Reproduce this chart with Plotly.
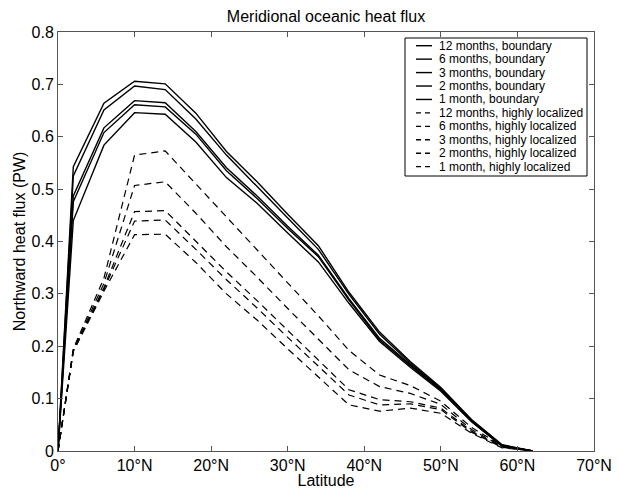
import plotly.graph_objects as go

lat = [0, 2, 6, 10, 14, 18, 22, 26, 30, 34, 38, 42, 46, 50, 54, 58, 62]

boundary_12 = [0, 0.543, 0.664, 0.706, 0.701, 0.645, 0.572, 0.514, 0.452, 0.392, 0.303, 0.227, 0.171, 0.121, 0.060, 0.012, 0]
boundary_6 = [0, 0.525, 0.651, 0.697, 0.690, 0.634, 0.565, 0.506, 0.445, 0.385, 0.299, 0.223, 0.168, 0.119, 0.059, 0.011, 0]
boundary_3 = [0, 0.487, 0.617, 0.669, 0.665, 0.610, 0.541, 0.487, 0.429, 0.374, 0.291, 0.215, 0.165, 0.117, 0.058, 0.010, 0]
boundary_2 = [0, 0.476, 0.608, 0.661, 0.657, 0.605, 0.535, 0.482, 0.425, 0.371, 0.288, 0.212, 0.163, 0.116, 0.057, 0.010, 0]
boundary_1 = [0, 0.440, 0.584, 0.646, 0.643, 0.590, 0.522, 0.473, 0.416, 0.361, 0.282, 0.209, 0.160, 0.114, 0.056, 0.009, 0]

local_12 = [0, 0.195, 0.330, 0.565, 0.573, 0.510, 0.447, 0.385, 0.323, 0.258, 0.192, 0.145, 0.125, 0.095, 0.045, 0.010, 0]
local_6 = [0, 0.193, 0.320, 0.507, 0.514, 0.454, 0.390, 0.332, 0.272, 0.213, 0.155, 0.123, 0.110, 0.089, 0.041, 0.009, 0]
local_3 = [0, 0.192, 0.312, 0.457, 0.459, 0.401, 0.342, 0.287, 0.230, 0.173, 0.117, 0.098, 0.094, 0.082, 0.038, 0.008, 0]
local_2 = [0, 0.191, 0.309, 0.439, 0.441, 0.385, 0.327, 0.273, 0.217, 0.162, 0.107, 0.088, 0.090, 0.079, 0.036, 0.007, 0]
local_1 = [0, 0.190, 0.305, 0.413, 0.414, 0.360, 0.300, 0.250, 0.195, 0.141, 0.088, 0.076, 0.082, 0.072, 0.034, 0.006, 0]

boundary_names = ["12 months, boundary", "6 months, boundary", "3 months, boundary",
                  "2 months, boundary", "1 month, boundary"]
local_names = ["12 months, highly localized", "6 months, highly localized",
               "3 months, highly localized", "2 months, highly localized",
               "1 month, highly localized"]

x_ticks = [0, 10, 20, 30, 40, 50, 60, 70]
x_ticklabels = ["0°", "10°N", "20°N", "30°N", "40°N", "50°N", "60°N", "70°N"]
y_ticks = [0, 0.1, 0.2, 0.3, 0.4, 0.5, 0.6, 0.7, 0.8]
y_ticklabels = ["0", "0.1", "0.2", "0.3", "0.4", "0.5", "0.6", "0.7", "0.8"]

W, H = 618, 489
L, R, T, B = 58, 594, 32, 451  # plot area in pixels

SOLID = "solid"
DASH_PLOT = "7px,5px"
DASH_LEG = "5px,4px"

fig = go.Figure()
entries = []
for name, vals in zip(boundary_names, [boundary_12, boundary_6, boundary_3, boundary_2, boundary_1]):
    fig.add_trace(go.Scatter(x=lat, y=vals, mode="lines", name=name, showlegend=False,
                             line=dict(color="black", width=1.4)))
    entries.append((name, SOLID))
for name, vals in zip(local_names, [local_12, local_6, local_3, local_2, local_1]):
    fig.add_trace(go.Scatter(x=lat, y=vals, mode="lines", name=name, showlegend=False,
                             line=dict(color="black", width=1.2, dash=DASH_PLOT)))
    entries.append((name, DASH_LEG))

font = "Liberation Sans, Arial, Helvetica, sans-serif"
axis_common = dict(showgrid=False, zeroline=False, showline=True, linecolor="#555",
                   linewidth=1, mirror="ticks", ticks="inside", ticklen=5,
                   tickcolor="#555", automargin=False,
                   tickfont=dict(family=font, size=16, color="black"))


def px_x(p):
    return (p - L) / (R - L)


def px_y(p):
    return (B - p) / (B - T)


# legend drawn as box + samples + labels (paper coordinates)
shapes = [dict(type="rect", xref="paper", yref="paper",
               x0=px_x(405), x1=px_x(587), y0=px_y(176), y1=px_y(38),
               line=dict(color="black", width=1), fillcolor="white", layer="above")]
annotations = []
row0, dy = 45.7, 13.44
for i, (name, dash) in enumerate(entries):
    yc = row0 + dy * i
    shapes.append(dict(type="line", xref="paper", yref="paper",
                       x0=px_x(416), x1=px_x(432), y0=px_y(yc), y1=px_y(yc),
                       line=dict(color="black", width=1.4, dash=dash), layer="above"))
    annotations.append(dict(text=name, xref="paper", yref="paper",
                            x=px_x(437), y=px_y(yc), xanchor="left", yanchor="middle",
                            showarrow=False, font=dict(family=font, size=12, color="black")))

fig.update_layout(
    width=W, height=H,
    margin=dict(l=L, r=W - R, t=T, b=H - B),
    paper_bgcolor="white", plot_bgcolor="white",
    font=dict(family=font, color="black"),
    title=dict(text="Meridional oceanic heat flux", x=(L + R) / 2 / W, xanchor="center",
               y=1 - 16 / H, yanchor="middle", yref="container",
               font=dict(family=font, size=16, color="black")),
    xaxis=dict(range=[0, 70], tickvals=x_ticks, ticktext=x_ticklabels,
               title=dict(text="Latitude", font=dict(family=font, size=16), standoff=0),
               **axis_common),
    yaxis=dict(range=[0, 0.8], tickvals=y_ticks, ticktext=y_ticklabels,
               title=dict(text="Northward heat flux (PW)", font=dict(family=font, size=16), standoff=1),
               **axis_common),
    shapes=shapes,
    annotations=annotations,
    showlegend=False,
)

fig.write_html("out.html", config={"displayModeBar": False},
               post_script="document.body.style.margin='0';document.body.style.overflow='hidden';")
